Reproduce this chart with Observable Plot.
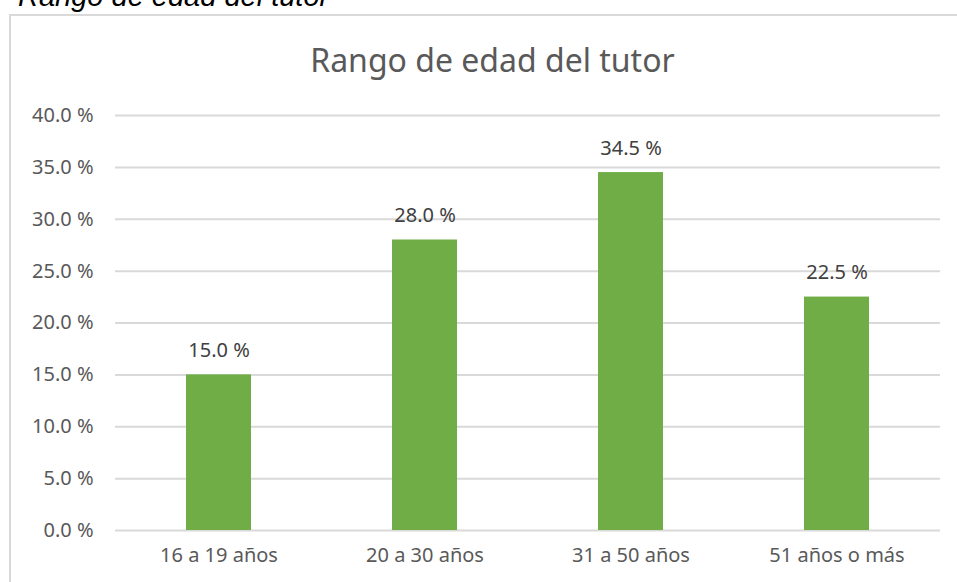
<!DOCTYPE html>
<html><head><meta charset="utf-8">
<script src="https://cdn.jsdelivr.net/npm/d3@7"></script>
<script src="https://cdn.jsdelivr.net/npm/@observablehq/plot@0.6"></script>
<style>
html,body{margin:0;padding:0;background:#fff;width:957px;height:582px;overflow:hidden;}
#wrap{position:relative;width:957px;height:582px;}
#cap{position:absolute;left:18px;top:-18px;line-height:1;font-family:"Liberation Sans",Arial,sans-serif;font-style:italic;font-size:29px;color:#000;white-space:nowrap;}
#frame{position:absolute;left:9px;top:14px;width:960px;height:600px;border:2px solid #d9d9d9;box-sizing:border-box;}
#title{position:absolute;left:14px;width:957px;top:39px;line-height:1.3;text-align:center;font-family:"Noto Sans",sans-serif;font-size:32px;color:#595959;}
#chart{position:absolute;left:0;top:0;}
</style></head><body>
<div id="wrap">
<div id="cap">Rango de edad del tutor</div>
<div id="frame"></div>
<div id="title">Rango de edad del tutor</div>
<div id="chart"></div>
</div>
<script>
const categories = ["16 a 19 años","20 a 30 años","31 a 50 años","51 años o más"];
const values = [15.0, 28.0, 34.5, 22.5];
const yTicks = [0,5,10,15,20,25,30,35,40];
const data = categories.map((c,i)=>({cat:c, v:values[i]}));
const fmt = d => d.toFixed(1) + " %";
const plot = Plot.plot({
  width:957, height:582,
  marginLeft:115, marginRight:17, marginTop:115, marginBottom:52,
  style:{fontFamily:"Noto Sans, sans-serif", fontSize:"20px", color:"#595959", background:"transparent", overflow:"visible"},
  x:{domain:categories, paddingInner:0.684, paddingOuter:0.342, label:null},
  y:{domain:[0,40], label:null},
  marks:[
    Plot.ruleY(yTicks, {stroke:"#d9d9d9", strokeWidth:2}),
    Plot.barY(data, {x:"cat", y:"v", fill:"#70ad47"}),
    Plot.text(data, {x:"cat", y:"v", text:d=>fmt(d.v), dy:-24, fill:"#404040", fontSize:20}),
    Plot.axisX({tickSize:0, tickPadding:17, fontSize:20, fill:"#595959"}),
    Plot.axisY({ticks:yTicks, tickFormat:fmt, tickSize:0, tickPadding:22, fontSize:20, fill:"#595959"})
  ]
});
document.getElementById("chart").appendChild(plot);
</script>
</body></html>
